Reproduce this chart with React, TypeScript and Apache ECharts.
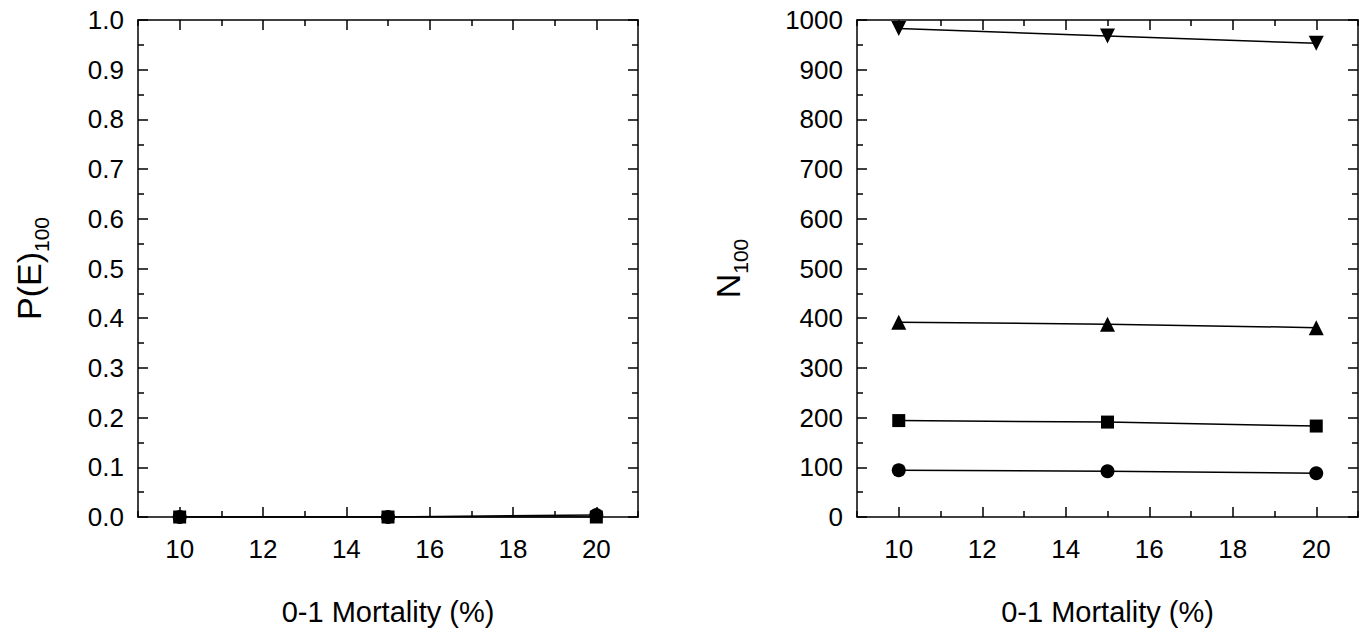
import React, { useEffect, useRef } from "react";
import * as echarts from "echarts";

const mortality = [10, 15, 20];
const xMajor = [10, 12, 14, 16, 18, 20];
const xMinor = [9, 11, 13, 15, 17, 19, 21];

// Left panel: P(E)100
const peCircle = [0, 0, 0.004];
const peSquare = [0, 0, 0];

// Right panel: N100
const nCircle = [94, 92, 88];
const nSquare = [194, 191, 183];
const nTriUp = [392, 388, 381];
const nTriDown = [983, 968, 953];

const FONT = "Liberation Sans, Arial, Helvetica, sans-serif";

export default function App() {
  const ref = useRef<HTMLDivElement>(null);
  useEffect(() => {
    document.body.style.margin = "0";
    const chart = echarts.init(ref.current!, null, { renderer: "svg" });
    const axisLine = { show: true, lineStyle: { color: "#000", width: 1.5 } };

    const grids = [
      { left: 138, right: 729, top: 20, bottom: 118 },
      { left: 857, right: 9, top: 20, bottom: 118 },
    ];

    const xAxes: any[] = [];
    const yAxes: any[] = [];
    [0, 1].forEach((g) => {
      xAxes.push({
        type: "value", gridIndex: g, min: 9, max: 21, position: "bottom",
        axisLine, splitLine: { show: false },
        axisTick: { inside: true, length: 10, lineStyle: { color: "#000", width: 1.5 }, customValues: xMajor },
        axisLabel: { customValues: xMajor, fontSize: 26, color: "#000", fontFamily: FONT, margin: 19 },
        name: "0-1 Mortality (%)", nameLocation: "middle", nameGap: 80,
        nameTextStyle: { fontSize: 29, color: "#000", fontFamily: FONT },
      });
      xAxes.push({
        type: "value", gridIndex: g, min: 9, max: 21, position: "bottom",
        axisLine: { show: false }, splitLine: { show: false },
        axisTick: { inside: true, length: 6, lineStyle: { color: "#000", width: 1.5 }, customValues: xMinor },
        axisLabel: { show: false },
      });
      xAxes.push({
        type: "value", gridIndex: g, min: 9, max: 21, position: "top",
        axisLine, splitLine: { show: false },
        axisTick: { inside: true, length: 10, lineStyle: { color: "#000", width: 1.5 }, customValues: xMajor },
        axisLabel: { show: false },
      });
      xAxes.push({
        type: "value", gridIndex: g, min: 9, max: 21, position: "top",
        axisLine: { show: false }, splitLine: { show: false },
        axisTick: { inside: true, length: 6, lineStyle: { color: "#000", width: 1.5 }, customValues: xMinor },
        axisLabel: { show: false },
      });
      const ymax = g === 0 ? 1 : 1000;
      const yint = g === 0 ? 0.1 : 100;
      const yname = g === 0 ? "{a|P(E)}{b|100}" : "{a|N}{b|100}";
      yAxes.push({
        type: "value", gridIndex: g, min: 0, max: ymax, interval: yint, position: "left",
        axisLine, splitLine: { show: false },
        axisTick: { inside: true, length: 10, lineStyle: { color: "#000", width: 1.5 } },
        minorTick: { show: true, splitNumber: 2, length: 6, lineStyle: { color: "#000", width: 1.5 } },
        axisLabel: {
          fontSize: 26, color: "#000", fontFamily: FONT, margin: 14,
          formatter: (v: number) => (g === 0 ? v.toFixed(1) : String(Math.round(v))),
        },
        name: yname, nameLocation: "middle", nameRotate: 90, nameGap: g === 0 ? 86 : 106,
        nameTextStyle: {
          color: "#000", fontFamily: FONT,
          rich: {
            a: { fontSize: 34, fontFamily: FONT, color: "#000", verticalAlign: "middle", lineHeight: 46 },
            b: { fontSize: 21, fontFamily: FONT, color: "#000", verticalAlign: "bottom", lineHeight: 46 },
          },
        },
      });
      yAxes.push({
        type: "value", gridIndex: g, min: 0, max: ymax, interval: yint, position: "right",
        axisLine, splitLine: { show: false },
        axisTick: { inside: true, length: 10, lineStyle: { color: "#000", width: 1.5 } },
        minorTick: { show: true, splitNumber: 2, length: 6, lineStyle: { color: "#000", width: 1.5 } },
        axisLabel: { show: false },
      });
    });

    const mk = (data: number[], symbol: string, size: number, xi: number, yi: number, rot = 0) => ({
      type: "line",
      xAxisIndex: xi,
      yAxisIndex: yi,
      data: mortality.map((m, i) => [m, data[i]]),
      symbol,
      symbolSize: size,
      symbolRotate: rot,
      showSymbol: true,
      lineStyle: { color: "#000", width: 1.5 },
      itemStyle: { color: "#000" },
      z: 5,
    });

    chart.setOption({
      animation: false,
      backgroundColor: "#fff",
      grid: grids,
      xAxis: xAxes,
      yAxis: yAxes,
      series: [
        mk(peSquare, "rect", 13, 0, 0),
        mk(peCircle, "circle", 14, 0, 0),
        mk(nCircle, "circle", 14, 4, 2),
        mk(nSquare, "rect", 13, 4, 2),
        mk(nTriUp, "triangle", 15, 4, 2),
        mk(nTriDown, "triangle", 15, 4, 2, 180),
      ],
    });
    return () => chart.dispose();
  }, []);
  return <div ref={ref} style={{ width: 1367, height: 635, position: "absolute", left: 0, top: 0 }} />;
}
